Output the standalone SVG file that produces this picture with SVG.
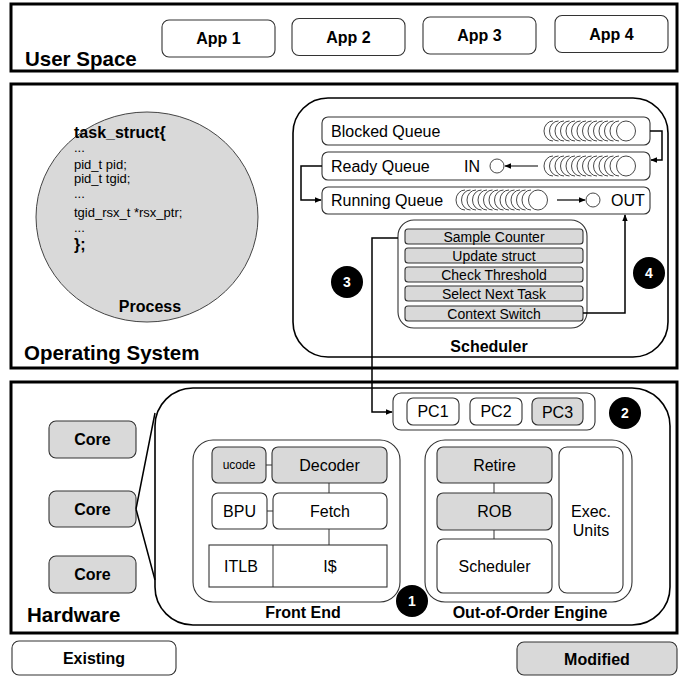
<svg xmlns="http://www.w3.org/2000/svg" xmlns:xlink="http://www.w3.org/1999/xlink" width="684" height="679" viewBox="0 0 684 679">
<style>
text{font-family:"Liberation Sans",Arial,sans-serif;fill:#000}
.b{font-weight:bold}
.c{text-anchor:middle}
.outer{fill:#fff;stroke:#000;stroke-width:3}
.big{fill:none;stroke:#000;stroke-width:1.6}
.box{fill:#fff;stroke:#333;stroke-width:1.1}
.mod{fill:#d9d9d9;stroke:#333;stroke-width:1.1}
.ln{fill:none;stroke:#000;stroke-width:1.5}
.thin{fill:none;stroke:#333;stroke-width:1}
.coil{fill:none;stroke:#333;stroke-width:0.9}
.code{font-size:13px}
.num{fill:#000}
.numt{fill:#fff;font-weight:bold;font-size:14px;text-anchor:middle}
</style>
<defs>
<marker id="ah" viewBox="0 0 10 10" refX="9" refY="5" markerWidth="7" markerHeight="7" orient="auto" markerUnits="userSpaceOnUse">
<path d="M0,1 L10,5 L0,9 z" fill="#000"/>
</marker>
<g id="coil">
<path class="coil" d="M10,-10 A9 10 0 0 0 10,10 M15.5,-10 A9 10 0 0 0 15.5,10 M21,-10 A9 10 0 0 0 21,10 M26.5,-10 A9 10 0 0 0 26.5,10 M32,-10 A9 10 0 0 0 32,10 M37.5,-10 A9 10 0 0 0 37.5,10 M43,-10 A9 10 0 0 0 43,10 M48.5,-10 A9 10 0 0 0 48.5,10 M54,-10 A9 10 0 0 0 54,10 M59.5,-10 A9 10 0 0 0 59.5,10 M65,-10 A9 10 0 0 0 65,10 M70.5,-10 A9 10 0 0 0 70.5,10 M76,-10 A9 10 0 0 0 76,10"/>
<ellipse cx="83" cy="0" rx="9.5" ry="10" fill="#fff" stroke="#333" stroke-width="0.9"/>
</g>
</defs>

<g id="user-space">
<rect class="outer" x="11" y="4" width="666" height="67"/>
<text class="b" x="25" y="66" font-size="20.5">User Space</text>
</g>
<g id="app1"><rect class="box" x="162" y="20" width="113" height="37" rx="7"/><text class="b c" x="218.5" y="44" font-size="16">App 1</text></g>
<g id="app2"><rect class="box" x="292" y="18.5" width="113" height="37" rx="7"/><text class="b c" x="348.5" y="42.5" font-size="16">App 2</text></g>
<g id="app3"><rect class="box" x="423" y="17" width="113" height="37" rx="7"/><text class="b c" x="479.5" y="41" font-size="16">App 3</text></g>
<g id="app4"><rect class="box" x="555" y="15.5" width="113" height="37" rx="7"/><text class="b c" x="611.5" y="39.5" font-size="16">App 4</text></g>

<g id="os">
<rect class="outer" x="11" y="84" width="666" height="284"/>
<text class="b" x="24" y="360" font-size="20.5">Operating System</text>
</g>
<g id="process">
<ellipse cx="147" cy="217" rx="111" ry="105" fill="#d9d9d9" stroke="#444" stroke-width="1"/>
<text class="b" x="74" y="138" font-size="16">task_struct{</text>
<text class="code" x="74" y="152">...</text>
<text class="code" x="74" y="169">pid_t pid;</text>
<text class="code" x="74" y="183">pid_t tgid;</text>
<text class="code" x="74" y="198">...</text>
<text class="code" x="74" y="217">tgid_rsx_t *rsx_ptr;</text>
<text class="code" x="74" y="232">...</text>
<text class="b" x="74" y="250" font-size="16">};</text>
<text class="b c" x="150" y="312" font-size="16">Process</text>
</g>

<g id="scheduler">
<rect class="big" x="293" y="98" width="375" height="259" rx="35"/>
<text class="b c" x="489" y="352" font-size="16">Scheduler</text>
</g>
<g id="blocked-queue">
<rect class="box" x="322" y="117" width="328" height="28" rx="6"/>
<text x="331" y="137" font-size="16">Blocked Queue</text>
<use xlink:href="#coil" href="#coil" x="543" y="131"/>
</g>
<g id="ready-queue">
<rect class="box" x="322" y="152" width="328" height="28" rx="6"/>
<text x="331" y="172" font-size="16">Ready Queue</text>
<text x="464" y="172" font-size="16">IN</text>
<circle cx="497" cy="166" r="7" fill="#fff" stroke="#333" stroke-width="0.9"/>
<use xlink:href="#coil" href="#coil" x="543" y="166"/>
<line x1="538" y1="166" x2="505" y2="166" stroke="#000" stroke-width="1.2" marker-end="url(#ah)"/>
</g>
<g id="running-queue">
<rect class="box" x="322" y="187" width="328" height="27" rx="6"/>
<text x="331" y="206" font-size="16">Running Queue</text>
<use xlink:href="#coil" href="#coil" x="455" y="200"/>
<line x1="557" y1="200" x2="585" y2="200" stroke="#000" stroke-width="1.2" marker-end="url(#ah)"/>
<circle cx="593" cy="200" r="7" fill="#fff" stroke="#333" stroke-width="0.9"/>
<text x="611" y="206" font-size="16">OUT</text>
</g>
<g id="sched-steps">
<rect class="box" x="398" y="220" width="189" height="108" rx="16"/>
<rect class="mod" x="405" y="229" width="178" height="15" rx="3"/><text class="c" x="494" y="241.5" font-size="14">Sample Counter</text>
<rect class="mod" x="405" y="248" width="178" height="15" rx="3"/><text class="c" x="494" y="260.5" font-size="14">Update struct</text>
<rect class="mod" x="405" y="267" width="178" height="15" rx="3"/><text class="c" x="494" y="279.5" font-size="14">Check Threshold</text>
<rect class="mod" x="405" y="286" width="178" height="15" rx="3"/><text class="c" x="494" y="298.5" font-size="14">Select Next Task</text>
<rect class="mod" x="405" y="306" width="178" height="15" rx="3"/><text class="c" x="494" y="318.5" font-size="14">Context Switch</text>
</g>
<g id="badge3"><circle class="num" cx="347" cy="282" r="16"/><text class="numt" x="347" y="287">3</text></g>
<g id="badge4"><circle class="num" cx="649" cy="273" r="16"/><text class="numt" x="649" y="278">4</text></g>

<g id="hardware">
<rect class="outer" x="11" y="382" width="666" height="251"/>
<text class="b" x="27" y="622" font-size="20.5">Hardware</text>
</g>
<g id="core1"><rect class="mod" x="49" y="421" width="87" height="37" rx="7"/><text class="b c" x="92.5" y="445" font-size="16">Core</text></g>
<g id="core2"><rect class="mod" x="49" y="491" width="87" height="36" rx="7"/><text class="b c" x="92.5" y="515" font-size="16">Core</text></g>
<g id="core3"><rect class="mod" x="49" y="556" width="87" height="37" rx="7"/><text class="b c" x="92.5" y="580" font-size="16">Core</text></g>
<g id="core-detail">
<rect class="big" x="155" y="388" width="515" height="237" rx="38"/>
</g>
<g id="pc-box">
<rect class="box" x="393" y="393" width="202" height="37" rx="8"/>
<rect class="box" x="407" y="398" width="52" height="27" rx="6"/><text class="c" x="433" y="417" font-size="16">PC1</text>
<rect class="box" x="470" y="398" width="52" height="27" rx="6"/><text class="c" x="496" y="417" font-size="16">PC2</text>
<rect class="mod" x="532" y="398" width="51" height="27" rx="6"/><text class="c" x="557.5" y="418" font-size="16">PC3</text>
</g>
<g id="badge2"><circle class="num" cx="625" cy="413" r="16"/><text class="numt" x="625" y="418">2</text></g>
<g id="front-end">
<rect class="box" x="193" y="440" width="207" height="162" rx="20"/>
<rect class="mod" x="212" y="447" width="54" height="36" rx="6"/><text class="c" x="239" y="469" font-size="12">ucode</text>
<rect class="mod" x="272" y="447" width="115" height="36" rx="6"/><text class="c" x="329.5" y="471" font-size="16">Decoder</text>
<rect class="box" x="212" y="493" width="55" height="36" rx="6"/><text class="c" x="239.5" y="517" font-size="16">BPU</text>
<rect class="box" x="273" y="493" width="114" height="36" rx="6"/><text class="c" x="330" y="517" font-size="16">Fetch</text>
<rect class="box" x="209" y="545" width="178" height="42"/>
<line class="thin" x1="273" y1="545" x2="273" y2="587"/>
<text class="c" x="241" y="572" font-size="16">ITLB</text>
<text class="c" x="330" y="572" font-size="16">I$</text>
<path class="thin" d="M266,465 H272 M329,483 V493 M267,511 H273 M329,529 V545"/>
<text class="b c" x="303" y="618" font-size="16">Front End</text>
</g>
<g id="ooo-engine">
<rect class="box" x="425" y="440" width="207" height="162" rx="20"/>
<rect class="mod" x="437" y="447" width="115" height="36" rx="6"/><text class="c" x="494.5" y="471" font-size="16">Retire</text>
<rect class="mod" x="437" y="493" width="115" height="37" rx="6"/><text class="c" x="494.5" y="517" font-size="16">ROB</text>
<rect class="box" x="437" y="539" width="115" height="54" rx="6"/><text class="c" x="494.5" y="572" font-size="16">Scheduler</text>
<rect class="box" x="559" y="447" width="64" height="146" rx="8"/>
<text class="c" x="591" y="517" font-size="16">Exec.</text>
<text class="c" x="591" y="536" font-size="16">Units</text>
<path class="thin" d="M494,483 V493 M494,530 V539"/>
<text class="b c" x="530" y="618" font-size="16">Out-of-Order Engine</text>
</g>
<g id="badge1"><circle class="num" cx="412" cy="601" r="16"/><text class="numt" x="412" y="606">1</text></g>

<g id="legend-existing"><rect class="box" x="12" y="641" width="164" height="34" rx="7"/><text class="b c" x="94" y="664" font-size="16">Existing</text></g>
<g id="legend-modified"><rect class="mod" x="517" y="642" width="160" height="33" rx="7"/><text class="b c" x="597" y="665" font-size="16">Modified</text></g>

<g id="connectors">
<path class="ln" d="M136,509 L155,413 M136,509 L155,580"/>
<path class="ln" d="M650,131 H662 V160 H651" marker-end="url(#ah)"/>
<path class="ln" d="M322,166 H301 V200 H321" marker-end="url(#ah)"/>
<path class="ln" d="M583,313 H625 V215" marker-end="url(#ah)"/>
<path class="ln" d="M398,238 H372 V412 H392" marker-end="url(#ah)"/>
</g>
</svg>
